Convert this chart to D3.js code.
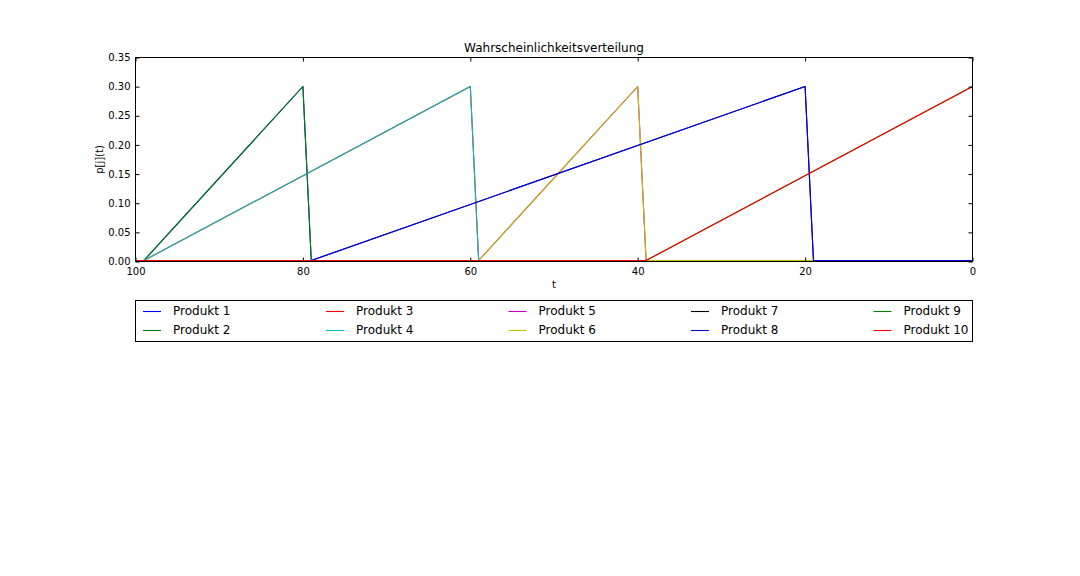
<!DOCTYPE html>
<html>
<head>
<meta charset="utf-8">
<script src="https://cdn.jsdelivr.net/npm/d3@7"></script>
<style>
  html, body { margin: 0; padding: 0; background: #fff; }
  svg { display: block; font-family: "DejaVu Sans", sans-serif; }
</style>
</head>
<body>
<svg id="chart" width="1080" height="576"></svg>
<script>
// ---- data (vertices of each polyline, [t, p]) ----
const productNames = ["Produkt 1","Produkt 2","Produkt 3","Produkt 4","Produkt 5",
                      "Produkt 6","Produkt 7","Produkt 8","Produkt 9","Produkt 10"];
const productColors = ["#0000ff","#008000","#ff0000","#00bfbf","#bf00bf",
                       "#bfbf00","#000000","#0000ff","#008000","#ff0000"];
const produkt1  = [[100,0],[99,0],[80,0.3],[79,0],[0,0]];
const produkt2  = [[100,0],[99,0],[80,0.3],[79,0],[0,0]];
const produkt3  = [[100,0],[99,0],[60,0.3],[59,0],[0,0]];
const produkt4  = [[100,0],[99,0],[60,0.3],[59,0],[0,0]];
const produkt5  = [[100,0],[59,0],[40,0.3],[39,0],[0,0]];
const produkt6  = [[100,0],[59,0],[40,0.3],[39,0],[0,0]];
const produkt7  = [[100,0],[79,0],[20,0.3],[19,0],[0,0]];
const produkt8  = [[100,0],[79,0],[20,0.3],[19,0],[0,0]];
const produkt9  = [[100,0],[39,0],[0,0.3]];
const produkt10 = [[100,0],[39,0],[0,0.3]];
const seriesData = [produkt1,produkt2,produkt3,produkt4,produkt5,
                    produkt6,produkt7,produkt8,produkt9,produkt10];
const xTicks = [100, 80, 60, 40, 20, 0];
const yTicks = [0, 0.05, 0.10, 0.15, 0.20, 0.25, 0.30, 0.35];

const titleText = "Wahrscheinlichkeitsverteilung";
const xLabel = "t";
const yLabel = "p[j](t)";

// ---- layout ----
const L = 135.5, R = 972.5, T = 57.5, B = 261.5;
const svg = d3.select("#chart");

const x = d3.scaleLinear().domain([100, 0]).range([L, R]);
const y = d3.scaleLinear().domain([0, 0.35]).range([B - 1, T]);

// lines
const line = d3.line().x(d => x(d[0])).y(d => y(d[1]));
svg.append("g").selectAll("path").data(seriesData).join("path")
  .attr("d", d => line(d))
  .attr("fill", "none")
  .attr("stroke", (d, i) => productColors[i])
  .attr("stroke-width", 1.1)
  .attr("stroke-linejoin", "round");

// axes (ticks inside)
const fmtY = d3.format(".2f");
function styleAxis(g) {
  g.select(".domain").remove();
  g.selectAll(".tick line").attr("stroke", "#000").attr("stroke-width", 1);
  g.selectAll(".tick text").attr("fill", "#000").attr("font-size", 10)
    .attr("font-family", "DejaVu Sans, sans-serif");
}
svg.append("g").attr("transform", `translate(0,${B})`)
  .call(d3.axisBottom(x).tickValues(xTicks).tickSizeInner(-4).tickSizeOuter(0).tickPadding(6).tickFormat(d3.format("d")))
  .call(styleAxis);
svg.append("g").attr("transform", `translate(0,${T})`)
  .call(d3.axisTop(x).tickValues(xTicks).tickSizeInner(-4).tickSizeOuter(0).tickFormat(""))
  .call(styleAxis);
svg.append("g").attr("transform", `translate(${L},0)`)
  .call(d3.axisLeft(y.copy().range([B, T])).tickValues(yTicks).tickSizeInner(-4).tickSizeOuter(0).tickPadding(5).tickFormat(fmtY))
  .call(styleAxis);
svg.append("g").attr("transform", `translate(${R},0)`)
  .call(d3.axisRight(y.copy().range([B, T])).tickValues(yTicks).tickSizeInner(-4).tickSizeOuter(0).tickFormat(""))
  .call(styleAxis);

// frame
svg.append("rect").attr("x", L).attr("y", T).attr("width", R - L).attr("height", B - T)
  .attr("fill", "none").attr("stroke", "#000").attr("stroke-width", 1);

// title & labels
svg.append("text").attr("x", (L + R) / 2).attr("y", T - 6)
  .attr("text-anchor", "middle").attr("font-size", 12).text(titleText);
svg.append("text").attr("x", (L + R) / 2).attr("y", 288)
  .attr("text-anchor", "middle").attr("font-size", 10).text(xLabel);
svg.append("text").attr("transform", `translate(103,${(T + B) / 2}) rotate(-90)`)
  .attr("text-anchor", "middle").attr("font-size", 10).text(yLabel);

// legend
const lg = svg.append("g");
lg.append("rect").attr("x", 135.5).attr("y", 300.5).attr("width", 837).attr("height", 41)
  .attr("fill", "#fff").attr("stroke", "#000").attr("stroke-width", 1);
const colX = [143, 326, 508.5, 691, 873.5];
const rowY = [311, 330];
productNames.forEach((name, i) => {
  const c = Math.floor(i / 2), r = i % 2;
  const gx = colX[c], gy = rowY[r];
  lg.append("line").attr("x1", gx).attr("x2", gx + 18).attr("y1", gy + 0.5).attr("y2", gy + 0.5)
    .attr("stroke", productColors[i]).attr("stroke-width", 1.1);
  lg.append("text").attr("x", gx + 30).attr("y", gy).attr("dy", "0.36em")
    .attr("font-size", 12).text(name);
});
</script>
</body>
</html>
